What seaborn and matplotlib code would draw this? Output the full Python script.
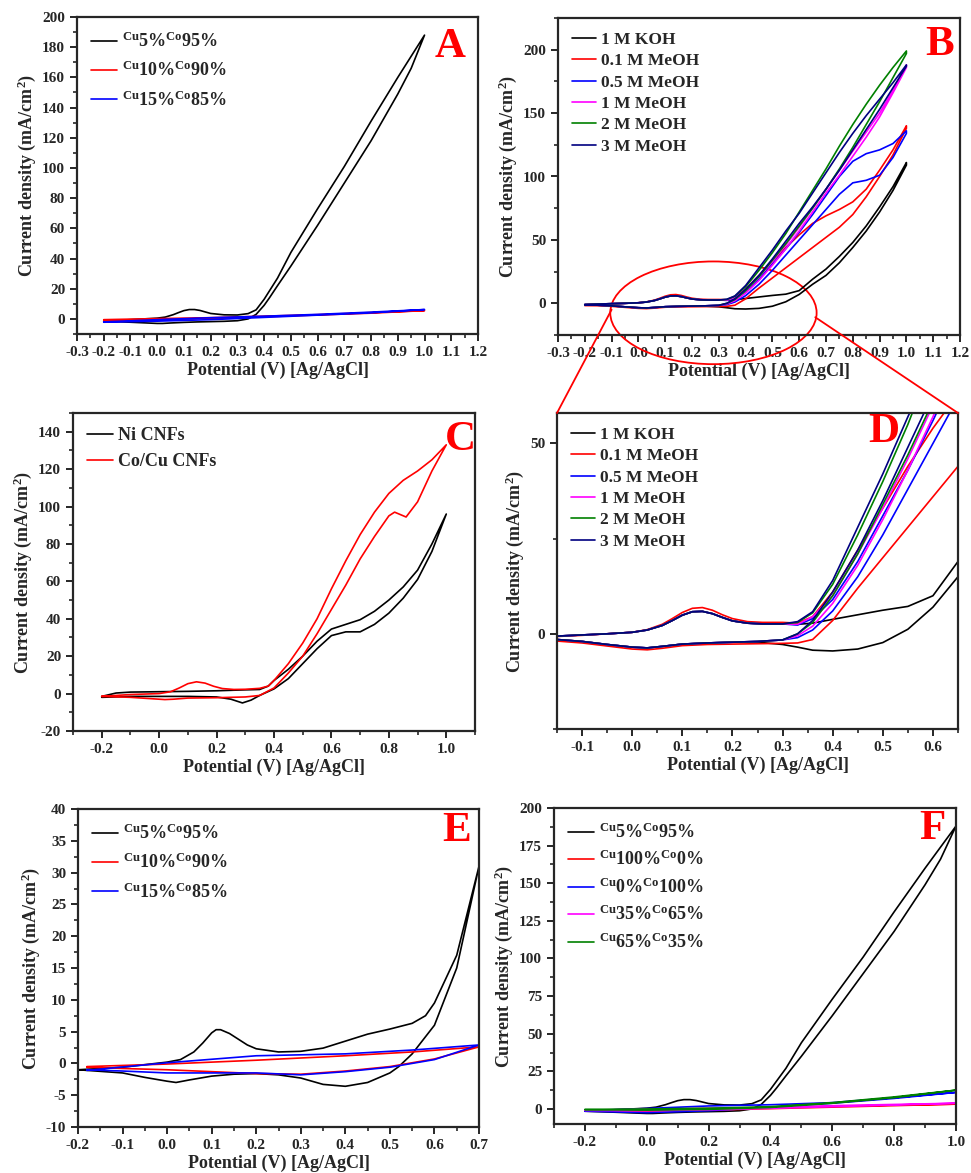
import pandas as pd
import matplotlib.pyplot as plt
import seaborn as sns
from matplotlib.patches import Ellipse, ConnectionPatch
from matplotlib.ticker import MultipleLocator

# ---------------- data ----------------
# Cu5%Co95% in methanol (panels A and F), forward then reverse scan
cu5_x = [-0.2, -0.15, -0.1, -0.05, 0.0, 0.03, 0.06, 0.08, 0.1, 0.12, 0.14, 0.16, 0.18, 0.2, 0.25, 0.3,
         0.34, 0.37, 0.4, 0.45, 0.5, 0.6, 0.7, 0.8, 0.9, 0.95, 1.0,
         0.95, 0.9, 0.8, 0.7, 0.6, 0.5, 0.45, 0.42, 0.4, 0.37, 0.34, 0.3, 0.25, 0.2, 0.15, 0.1,
         0.05, 0.02, 0.0, -0.05, -0.1, -0.2]
cu5_y = [-1.5, -1.0, -0.5, 0.0, 0.5, 1.2, 2.8, 4.2, 5.5, 6.2, 6.2, 5.6, 4.6, 3.6, 2.7, 2.6,
         3.5, 6.0, 13, 27, 44, 73, 101, 131, 160, 174, 188,
         166, 149, 118, 90, 62, 35, 22, 14, 9, 3, 0, -1.2, -1.6, -1.8, -2.0, -2.3,
         -2.7, -3.0, -3.0, -2.6, -2.2, -1.5]

# thin loops, common potential grid
loop_x = [-0.2, 0.0, 0.2, 0.4, 0.6, 0.8, 1.0, 0.8, 0.6, 0.4, 0.2, 0.0, -0.2]
cu10_y = [-0.5, 0.2, 0.8, 1.8, 2.8, 4.2, 5.5, 3.8, 2.6, 1.4, 0.4, -0.6, -1.0]
cu15_y = [-2.0, -0.5, 0.8, 1.8, 3.0, 4.5, 6.2, 4.0, 2.5, 1.0, -0.5, -1.5, -2.2]
cu100_y = [-1.0, -0.3, 0.3, 0.8, 1.8, 2.6, 3.2, 2.2, 1.2, 0.2, -0.8, -1.5, -1.2]
cu0_y = [-1.2, 0.3, 2.0, 2.8, 4.2, 7.5, 11.0, 7.0, 3.8, 1.2, -1.2, -2.5, -1.5]
cu35_y = [-0.8, -0.2, 0.3, 1.0, 2.2, 3.0, 3.8, 2.6, 1.5, 0.4, -0.6, -1.2, -1.0]
cu65_y = [-0.3, 0.0, 0.5, 1.5, 4.2, 8.0, 12.5, 7.5, 3.8, 1.0, -0.3, -0.8, -0.5]

# panel B / D : methanol concentration series
lo_fwd_x = [-0.2, -0.15, -0.1, -0.05, 0.0, 0.03, 0.06, 0.08, 0.1, 0.12, 0.14, 0.16, 0.18, 0.2, 0.23, 0.26, 0.3]
lo_fwd_y = [-1.0, -0.6, -0.3, 0.0, 0.4, 1.0, 2.2, 3.5, 4.9, 5.8, 5.9, 5.3, 4.3, 3.4, 2.8, 2.6, 2.6]
lo_fwd_y_red = [-1.2, -0.7, -0.4, 0.0, 0.4, 1.1, 2.5, 4.0, 5.6, 6.7, 6.9, 6.2, 5.0, 4.0, 3.2, 3.0, 3.0]
lo_rev_x = [0.3, 0.25, 0.2, 0.15, 0.1, 0.06, 0.03, 0.0, -0.05, -0.1, -0.15, -0.2]
lo_rev_y = [-1.6, -2.0, -2.2, -2.4, -2.7, -3.3, -3.7, -3.5, -2.8, -2.0, -1.5, -1.2]
lo_rev_y_red = [-2.5, -2.6, -2.7, -2.8, -3.1, -3.8, -4.2, -4.0, -3.2, -2.4, -1.9, -1.8]
lo_rev_y_koh = [-2.8, -2.2, -2.2, -2.4, -2.7, -3.3, -3.7, -3.5, -2.8, -2.0, -1.5, -1.2]

hi_fwd_x = [0.33, 0.36, 0.4, 0.45, 0.5, 0.55, 0.6, 0.65, 0.7, 0.75, 0.8, 0.85, 0.9, 0.95, 1.0]
hi_rev_x = [1.0, 0.95, 0.9, 0.85, 0.8, 0.75, 0.7, 0.65, 0.6, 0.55, 0.5, 0.45, 0.4, 0.36, 0.33]
koh_fwd = [2.5, 2.8, 3.8, 5.0, 6.2, 7.2, 10, 19, 27, 37, 48, 61, 76, 92, 111]
koh_rev = [109, 89, 72, 57, 44, 32, 22, 15, 7, 1.2, -2.3, -4.0, -4.5, -4.3, -3.5]
m01_fwd = [2.8, 4.5, 11, 22, 33, 44, 54, 63, 69, 74, 80, 90, 105, 121, 140]
m01_rev = [138, 117, 100, 84, 70, 60, 52, 44, 36, 28, 20, 12, 3.5, -1.5, -2.4]
m05_fwd = [2.3, 4.0, 9, 19, 31, 43, 56, 70, 85, 100, 112, 118, 121, 126, 136]
m05_rev = [134, 115, 101, 97, 95, 86, 74, 62, 50, 38, 26, 15, 6, 1, -1]
m1_fwd = [2.5, 4.5, 10, 21, 33, 46, 60, 75, 90, 105, 120, 135, 150, 168, 188]
m1_rev = [186, 166, 147, 131, 116, 101, 87, 72, 57, 43, 30, 18, 8, 2, -0.5]
m2_fwd = [3.0, 5.5, 13, 26, 40, 55, 72, 89, 106, 124, 141, 157, 172, 186, 199]
m2_rev = [197, 178, 159, 141, 123, 106, 90, 75, 61, 47, 34, 21, 10, 3, 0]
m3_fwd = [3.2, 5.8, 14, 28, 42, 57, 71, 87, 103, 119, 134, 148, 161, 174, 188]
m3_rev = [187, 170, 153, 137, 121, 105, 90, 76, 63, 49, 35, 22, 11, 3.5, 0]

# panel C
ni_x = [-0.2, -0.15, -0.1, 0.0, 0.1, 0.2, 0.3, 0.35, 0.38, 0.4, 0.45, 0.5, 0.55, 0.6, 0.65, 0.7,
        0.75, 0.8, 0.85, 0.9, 0.95, 1.0,
        0.95, 0.9, 0.85, 0.8, 0.75, 0.7, 0.65, 0.6, 0.55, 0.5, 0.45, 0.4, 0.35, 0.32, 0.29,
        0.25, 0.2, 0.1, 0.0, -0.1, -0.2]
ni_y = [-1.5, 0.3, 0.8, 1.0, 1.2, 1.5, 2.0, 2.2, 4.0, 7.0, 13, 20, 28, 34.5, 37, 39.5,
        44, 50, 57, 66, 80, 96,
        76, 61, 51, 43, 37, 33, 33, 31, 24, 16, 8, 2.5, -1.0, -3.5, -5.0,
        -3.0, -1.8, -1.5, -1.5, -1.5, -2.0]
cocu_x = [-0.2, -0.1, 0.0, 0.04, 0.07, 0.1, 0.13, 0.16, 0.19, 0.22, 0.26, 0.3, 0.35, 0.38, 0.4,
          0.45, 0.5, 0.55, 0.6, 0.65, 0.7, 0.75, 0.8, 0.85, 0.9, 0.95, 1.0,
          0.95, 0.9, 0.86, 0.82, 0.8, 0.75, 0.7, 0.65, 0.6, 0.55, 0.5, 0.45, 0.4, 0.35, 0.3,
          0.2, 0.1, 0.05, 0.02, 0.0, -0.1, -0.2]
cocu_y = [-1.5, -0.5, 0.0, 1.0, 3.0, 5.3, 6.3, 5.6, 3.9, 2.7, 2.2, 2.3, 2.8, 4.0, 7.0,
          16, 27, 40, 56, 71, 85, 97, 107, 114, 119, 125, 133,
          119, 102.5, 94.4, 97, 95, 84, 72, 58, 45, 32, 20, 11, 3, -1.0, -1.8,
          -2.2, -2.4, -3.0, -3.2, -3.0, -2.0, -1.5]

# panel E
e5_x = [-0.2, -0.1, 0.0, 0.03, 0.06, 0.08, 0.1, 0.11, 0.12, 0.14, 0.16, 0.18, 0.2, 0.25, 0.3, 0.35,
        0.4, 0.45, 0.5, 0.55, 0.58, 0.6, 0.65, 0.7,
        0.65, 0.6, 0.55, 0.52, 0.5, 0.45, 0.4, 0.35, 0.3, 0.25, 0.2, 0.15, 0.1, 0.05, 0.02,
        0.0, -0.05, -0.1, -0.2]
e5_y = [-1.0, -0.6, 0.2, 0.6, 1.8, 3.2, 4.8, 5.3, 5.3, 4.7, 3.8, 2.9, 2.3, 1.8, 1.9, 2.4,
        3.5, 4.6, 5.4, 6.3, 7.5, 9.5, 17, 31,
        15, 6.0, 1.5, -0.5, -1.5, -3.0, -3.6, -3.3, -2.3, -1.8, -1.6, -1.7, -2.0, -2.6, -3.0,
        -2.8, -2.2, -1.5, -1.0]
e_loop_x = [-0.18, 0.0, 0.2, 0.4, 0.55, 0.7, 0.6, 0.5, 0.4, 0.3, 0.2, 0.1, 0.0, -0.1, -0.18]
e10_y = [-0.5, -0.1, 0.5, 1.2, 1.8, 2.6, 0.7, -0.5, -1.2, -1.7, -1.6, -1.3, -1.0, -0.8, -0.6]
e15_y = [-1.1, 0.1, 1.2, 1.5, 2.1, 2.9, 0.6, -0.6, -1.3, -1.8, -1.5, -1.5, -1.5, -1.2, -1.0]

lab5 = "$^{Cu}$5%$^{Co}$95%"
lab10 = "$^{Cu}$10%$^{Co}$90%"
lab15 = "$^{Cu}$15%$^{Co}$85%"
lab100 = "$^{Cu}$100%$^{Co}$0%"
lab0 = "$^{Cu}$0%$^{Co}$100%"
lab35 = "$^{Cu}$35%$^{Co}$65%"
lab65 = "$^{Cu}$65%$^{Co}$35%"
meoh_labels = ['1 M KOH', '0.1 M MeOH', '0.5 M MeOH', '1 M MeOH', '2 M MeOH', '3 M MeOH']
meoh_colors = ['black', '#ff0000', '#0000ff', '#ff00ff', '#008000', '#000080']

# ---------------- style ----------------
sns.set_style('ticks')
plt.rcParams['font.family'] = ['Liberation Serif', 'DejaVu Serif']
plt.rcParams['font.weight'] = 'bold'
plt.rcParams['axes.labelweight'] = 'bold'
plt.rcParams['mathtext.default'] = 'regular'
plt.rcParams['axes.unicode_minus'] = False
plt.rcParams['axes.linewidth'] = 1.6
plt.rcParams['xtick.direction'] = 'out'
plt.rcParams['ytick.direction'] = 'out'

W, H = 971, 1173
fig = plt.figure(figsize=(W / 100, H / 100), dpi=100)
fig.patch.set_facecolor('white')


def box(l, r, t, b):
    return [l / W, (H - b) / H, (r - l) / W, (b - t) / H]


def curve(ax, x, y, color, label=None):
    # a CV loop: keep the scan order, no aggregation
    df = pd.DataFrame({'E': x, 'j': y})
    sns.lineplot(data=df, x='E', y='j', estimator=None, sort=False,
                 color=color, lw=1.2, ax=ax, legend=False)
    ax.lines[-1].set_label(label)


def finish(ax, xlim, ylim, xmaj, ymaj, letter, lpos, leg_size=12, spacing=0.6):
    ax.set_xlim(*xlim)
    ax.set_ylim(*ylim)
    ax.xaxis.set_major_locator(MultipleLocator(xmaj))
    ax.xaxis.set_minor_locator(MultipleLocator(xmaj / 2))
    ax.yaxis.set_major_locator(MultipleLocator(ymaj))
    ax.yaxis.set_minor_locator(MultipleLocator(ymaj / 2))
    ax.tick_params(which='major', length=5, width=1.4, labelsize=11)
    ax.tick_params(which='minor', length=3, width=1.2)
    for s in ax.spines.values():
        s.set_visible(True)
        s.set_linewidth(1.6)
    ax.set_xlabel('Potential (V) [Ag/AgCl]', fontsize=13, labelpad=2)
    ax.set_ylabel('Current density (mA/cm$^2$)', fontsize=13, labelpad=3)
    ax.text(lpos[0], lpos[1], letter, transform=ax.transAxes, color='#ff0000',
            fontsize=31, fontweight='bold', ha='center', va='center')
    ax.legend(loc='upper left', frameon=False, fontsize=leg_size, handlelength=1.4,
              handletextpad=0.3, labelspacing=spacing, borderaxespad=0.4)


# ---------------- A ----------------
axA = fig.add_axes(box(77, 478, 17, 334))
curve(axA, cu5_x, cu5_y, 'black', lab5)
curve(axA, loop_x, cu10_y, '#ff0000', lab10)
curve(axA, loop_x, cu15_y, '#0000ff', lab15)
finish(axA, (-0.3, 1.2), (-10, 200), 0.1, 20, 'A', (0.93, 0.905), leg_size=13, spacing=0.55)

# ---------------- B ----------------
axB = fig.add_axes(box(558, 960, 18, 335))
meoh = [(koh_fwd, koh_rev, lo_fwd_y, lo_rev_y_koh),
        (m01_fwd, m01_rev, lo_fwd_y_red, lo_rev_y_red),
        (m05_fwd, m05_rev, lo_fwd_y, lo_rev_y),
        (m1_fwd, m1_rev, lo_fwd_y, lo_rev_y),
        (m2_fwd, m2_rev, lo_fwd_y, lo_rev_y),
        (m3_fwd, m3_rev, lo_fwd_y, lo_rev_y)]
full_x = lo_fwd_x + hi_fwd_x + hi_rev_x + lo_rev_x
for (fw, rv, lf, lr), c, lab in zip(meoh, meoh_colors, meoh_labels):
    curve(axB, full_x, lf + fw + rv + lr, c, lab)
finish(axB, (-0.3, 1.2), (-25, 225), 0.1, 50, 'B', (0.95, 0.915), leg_size=12.5, spacing=0.3)
axB.set_yticks([0, 50, 100, 150, 200])
axB.yaxis.set_minor_locator(MultipleLocator(25))

# ---------------- C ----------------
axC = fig.add_axes(box(73, 475, 413, 731))
curve(axC, ni_x, ni_y, 'black', 'Ni CNFs')
curve(axC, cocu_x, cocu_y, '#ff0000', 'Co/Cu CNFs')
finish(axC, (-0.3, 1.1), (-20, 150), 0.2, 20, 'C', (0.965, 0.915), leg_size=13, spacing=0.5)
axC.set_yticks(range(-20, 141, 20))

# ---------------- D ----------------
axD = fig.add_axes(box(557, 958, 413, 729))
for (fw, rv, lf, lr), c, lab in zip(meoh, meoh_colors, meoh_labels):
    curve(axD, full_x, lf + fw + rv + lr, c, lab)
finish(axD, (-0.15, 0.65), (-25, 58), 0.1, 50, 'D', (0.815, 0.94), leg_size=12.5, spacing=0.3)
axD.set_yticks([0, 50])
axD.yaxis.set_minor_locator(MultipleLocator(25))

# ---------------- E ----------------
axE = fig.add_axes(box(78, 479, 809, 1127))
curve(axE, e5_x, e5_y, 'black', lab5)
curve(axE, e_loop_x, e10_y, '#ff0000', lab10)
curve(axE, e_loop_x, e15_y, '#0000ff', lab15)
finish(axE, (-0.2, 0.7), (-10, 40), 0.1, 5, 'E', (0.945, 0.93), leg_size=13, spacing=0.55)

# ---------------- F ----------------
axF = fig.add_axes(box(554, 956, 808, 1124))
curve(axF, cu5_x, cu5_y, 'black', lab5)
curve(axF, loop_x, cu100_y, '#ff0000', lab100)
curve(axF, loop_x, cu0_y, '#0000ff', lab0)
curve(axF, loop_x, cu35_y, '#ff00ff', lab35)
curve(axF, loop_x, cu65_y, '#008000', lab65)
finish(axF, (-0.3, 1.0), (-10, 200), 0.2, 25, 'F', (0.94, 0.935), leg_size=13, spacing=0.45)
axF.set_xticks([-0.2, 0.0, 0.2, 0.4, 0.6, 0.8, 1.0])

# zoom marker: ellipse in B and lines to D
ell = Ellipse((0.28, -7.5), 0.77, 81, fill=False, edgecolor='#ff0000', lw=1.3, clip_on=False)
axB.add_patch(ell)
for a, b in [((-0.1, -5), (0, 1)), ((0.66, -11), (1, 1))]:
    cp = ConnectionPatch(xyA=a, coordsA=axB.transData, xyB=b, coordsB=axD.transAxes,
                         color='#ff0000', lw=1.3)
    fig.add_artist(cp)

fig.savefig('out.png', dpi=100, facecolor='white')
